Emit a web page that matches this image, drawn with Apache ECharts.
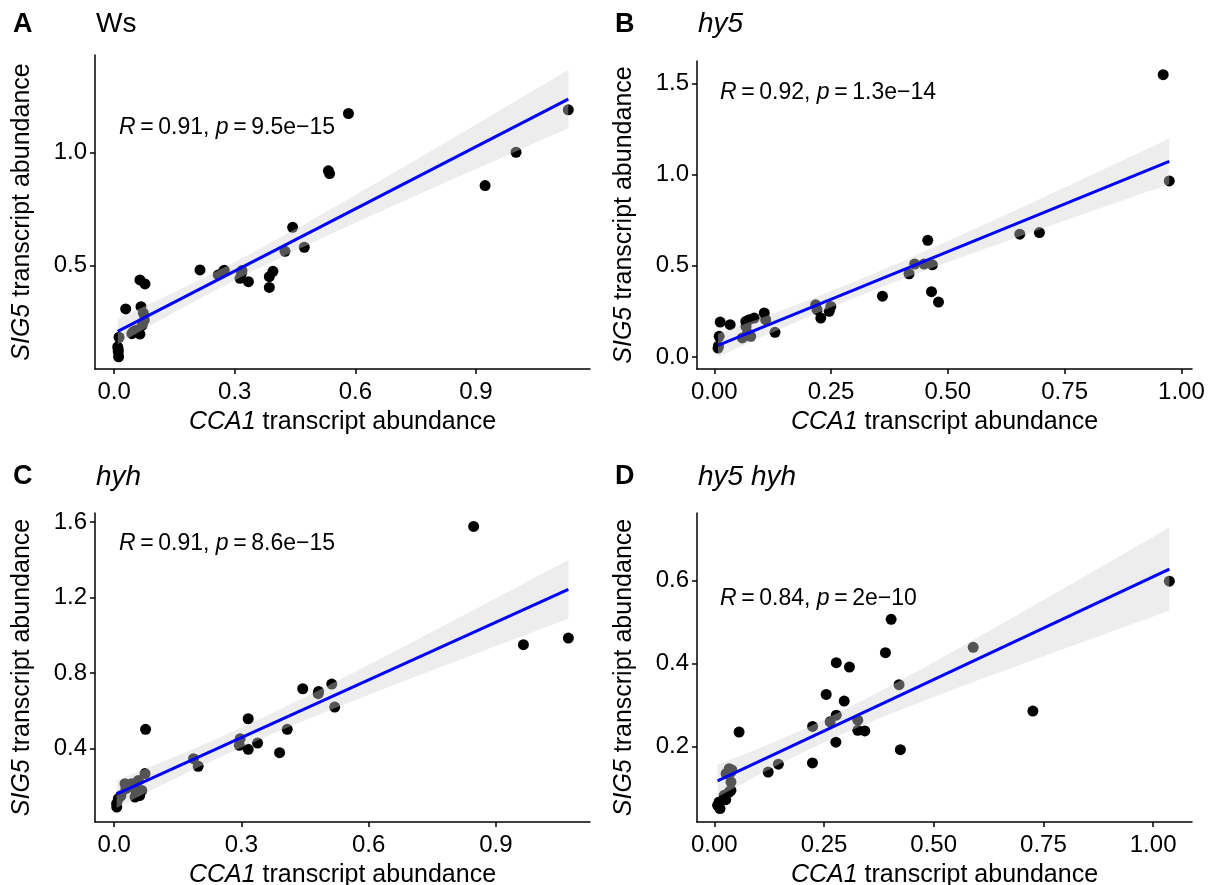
<!DOCTYPE html>
<html>
<head>
<meta charset="utf-8">
<script src="https://cdn.jsdelivr.net/npm/echarts@6/dist/echarts.min.js"></script>
<style>
  html, body { margin: 0; padding: 0; background: #fff; }
  #chart { width: 1216px; height: 885px; }
</style>
</head>
<body>
<div id="chart"></div>
<script>
// CCA1 (x) vs SIG5 (y) transcript abundance, one array of [x, y] per genotype
const wsPoints = [
  [0.0087,0.142],[0.010,0.120],[0.011,0.098],[0.012,0.184],[0.010,0.130],
  [0.0286,0.309],[0.044,0.200],[0.0475,0.209],[0.060,0.209],[0.064,0.198],
  [0.070,0.238],[0.075,0.260],[0.0725,0.290],[0.0667,0.319],[0.064,0.437],
  [0.0766,0.419],[0.055,0.215],
  [0.2135,0.481],[0.259,0.459],[0.2715,0.473],[0.274,0.480],[0.313,0.444],
  [0.317,0.466],[0.318,0.478],[0.334,0.429],[0.386,0.404],[0.386,0.451],
  [0.395,0.475],[0.425,0.563],[0.444,0.669],[0.473,0.581],[0.533,0.918],
  [0.536,0.906],[0.583,1.171],[0.923,0.853],[1.000,1.000],[1.130,1.187]
];
const hy5Points = [
  [0.008,0.049],[0.009,0.060],[0.0105,0.113],[0.0126,0.1915],[0.034,0.177],
  [0.060,0.104],[0.071,0.131],[0.068,0.1675],[0.0676,0.195],[0.0747,0.204],
  [0.078,0.113],[0.0854,0.213],[0.107,0.241],[0.110,0.204],[0.130,0.135],
  [0.217,0.286],[0.220,0.259],[0.2495,0.277],[0.246,0.250],[0.228,0.213],
  [0.360,0.333],[0.417,0.456],[0.429,0.509],[0.449,0.509],[0.457,0.639],
  [0.467,0.505],[0.465,0.358],[0.480,0.301],[0.654,0.673],[0.696,0.682],
  [0.961,1.547],[0.974,0.965]
];
const hyhPoints = [
  [0.006,0.089],[0.0057,0.107],[0.0097,0.133],[0.016,0.150],[0.0255,0.2125],
  [0.0275,0.186],[0.041,0.2125],[0.048,0.186],[0.049,0.142],[0.057,0.230],
  [0.060,0.150],[0.065,0.177],[0.0727,0.266],[0.074,0.501],
  [0.187,0.345],[0.198,0.305],[0.295,0.416],[0.297,0.451],[0.316,0.395],
  [0.316,0.557],[0.338,0.428],[0.390,0.377],[0.408,0.501],[0.4446,0.716],
  [0.481,0.690],[0.482,0.702],[0.513,0.741],[0.520,0.619],[0.8476,1.577],
  [0.965,0.950],[1.071,0.985]
];
const hy5hyhPoints = [
  [0.0075,0.058],[0.011,0.066],[0.013,0.050],[0.0226,0.082],[0.026,0.0715],
  [0.034,0.090],[0.038,0.094],[0.038,0.114],[0.027,0.134],[0.038,0.138],
  [0.034,0.146],[0.040,0.143],[0.0565,0.2345],[0.1228,0.138],[0.146,0.157],
  [0.2237,0.160],[0.224,0.248],[0.255,0.325],[0.264,0.259],[0.277,0.210],
  [0.278,0.275],[0.278,0.4016],[0.296,0.309],[0.308,0.391],[0.327,0.263],
  [0.327,0.2386],[0.343,0.237],[0.390,0.4257],[0.403,0.506],[0.421,0.3486],
  [0.424,0.192],[0.590,0.4386],[0.726,0.285],[1.037,0.598]
];

// tick values
const xTicksTenths = [0, 0.3, 0.6, 0.9];
const xTicksQuarters = [0, 0.25, 0.5, 0.75, 1];
const yTicksWs = [0.5, 1.0];
const yTicksHy5 = [0, 0.5, 1.0, 1.5];
const yTicksHyh = [0.4, 0.8, 1.2, 1.6];
const yTicksHy5hyh = [0.2, 0.4, 0.6];

// panel letters, genotype titles, correlation statistics
const panelLetters = ['A', 'B', 'C', 'D'];
const genotypes = ['Ws', 'hy5', 'hyh', 'hy5 hyh'];
const corR = ['0.91', '0.92', '0.91', '0.84'];
const corP = ['9.5e\u221215', '1.3e\u221214', '8.6e\u221215', '2e\u221210'];

const FONT = '"Liberation Sans", Arial, Helvetica, sans-serif';

// Student t 97.5% quantile (Cornish-Fisher expansion)
function tQuantile(df) {
  const z = 1.959964;
  const z3 = z*z*z, z5 = z3*z*z, z7 = z5*z*z;
  return z + (z3 + z)/(4*df) + (5*z5 + 16*z3 + 3*z)/(96*df*df)
           + (3*z7 + 19*z5 + 17*z3 - 15*z)/(384*df*df*df);
}

// least-squares fit with 95% confidence band
function linearFit(pts) {
  const n = pts.length;
  let mx = 0, my = 0;
  pts.forEach(p => { mx += p[0]; my += p[1]; });
  mx /= n; my /= n;
  let sxx = 0, sxy = 0;
  pts.forEach(p => { sxx += (p[0]-mx)*(p[0]-mx); sxy += (p[0]-mx)*(p[1]-my); });
  const b = sxy / sxx, a = my - b*mx;
  let rss = 0;
  pts.forEach(p => { const r = p[1] - a - b*p[0]; rss += r*r; });
  const s = Math.sqrt(rss/(n-2));
  const t = tQuantile(n-2);
  const xs = pts.map(p => p[0]);
  const x0 = Math.min.apply(null, xs), x1 = Math.max.apply(null, xs);
  const upper = [], lower = [];
  const steps = 80;
  for (let i = 0; i < steps; i++) {
    const x = x0 + (x1 - x0)*i/(steps-1);
    const yh = a + b*x;
    const se = s*Math.sqrt(1/n + (x-mx)*(x-mx)/sxx);
    upper.push([x, yh + t*se]);
    lower.push([x, yh - t*se]);
  }
  return { line: [[x0, a + b*x0], [x1, a + b*x1]], upper, lower };
}

const panels = [
  { pts: wsPoints, grid: {left: 95, top: 55, width: 495, height: 314},
    xr: [-0.0478, 1.184], yr: [0.044, 1.429], xt: xTicksTenths, xd: 1, yt: yTicksWs, yd: 1,
    letter: [13, 25], title: [96, 25], cor: [119, 128] },
  { pts: hy5Points, grid: {left: 697, top: 61, width: 495, height: 308},
    xr: [-0.037, 1.0227], yr: [-0.066, 1.622], xt: xTicksQuarters, xd: 2, yt: yTicksHy5, yd: 1,
    letter: [615, 25], title: [698, 25], cor: [720, 93] },
  { pts: hyhPoints, grid: {left: 95, top: 513, width: 495, height: 309},
    xr: [-0.0453, 1.122], yr: [0.0094, 1.648], xt: xTicksTenths, xd: 1, yt: yTicksHyh, yd: 1,
    letter: [13, 477], title: [96, 478], cor: [119, 544] },
  { pts: hy5hyhPoints, grid: {left: 697, top: 513, width: 495, height: 309},
    xr: [-0.0394, 1.0886], yr: [0.0177, 0.7622], xt: xTicksQuarters, xd: 2, yt: yTicksHy5hyh, yd: 1,
    letter: [615, 477], title: [698, 478], cor: [720, 599] }
];

const axisLine = { show: true, onZero: false, lineStyle: { color: '#000', width: 1.5 } };
const grids = [], xAxes = [], yAxes = [], series = [], graphics = [];

panels.forEach((p, i) => {
  grids.push(Object.assign({ containLabel: false, outerBoundsMode: 'none' }, p.grid));
  xAxes.push({
    type: 'value', gridIndex: i, min: p.xr[0], max: p.xr[1],
    axisLine, splitLine: { show: false },
    axisTick: { show: true, length: 5, lineStyle: { color: '#000', width: 1.5 }, customValues: p.xt },
    axisLabel: { color: '#000', fontFamily: FONT, fontSize: 24, margin: 11,
                 customValues: p.xt, formatter: v => v.toFixed(p.xd) },
    name: '{i|CCA1} transcript abundance', nameLocation: 'middle', nameGap: 41,
    nameTextStyle: { color: '#000', fontFamily: FONT, fontSize: 25,
                     rich: { i: { fontStyle: 'italic', fontFamily: FONT, fontSize: 25, color: '#000' } } }
  });
  yAxes.push({
    type: 'value', gridIndex: i, min: p.yr[0], max: p.yr[1],
    axisLine, splitLine: { show: false },
    axisTick: { show: true, length: 5, lineStyle: { color: '#000', width: 1.5 }, customValues: p.yt },
    axisLabel: { color: '#000', fontFamily: FONT, fontSize: 24, margin: 8,
                 customValues: p.yt, formatter: v => v.toFixed(p.yd) },
    name: '{i|SIG5} transcript abundance', nameLocation: 'middle', nameGap: 60,
    nameTextStyle: { color: '#000', fontFamily: FONT, fontSize: 25,
                     rich: { i: { fontStyle: 'italic', fontFamily: FONT, fontSize: 25, color: '#000' } } }
  });

  const fit = linearFit(p.pts);
  series.push({
    type: 'scatter', xAxisIndex: i, yAxisIndex: i, data: p.pts, z: 2,
    symbolSize: 11, itemStyle: { color: '#000', opacity: 1 }, silent: true
  });
  series.push({
    type: 'custom', xAxisIndex: i, yAxisIndex: i, z: 3, silent: true, data: [0],
    renderItem: (params, api) => {
      const poly = fit.upper.map(q => api.coord(q))
        .concat(fit.lower.slice().reverse().map(q => api.coord(q)));
      return { type: 'polygon', shape: { points: poly },
               style: { fill: 'rgba(211,211,211,0.4)' } };
    }
  });
  series.push({
    type: 'line', xAxisIndex: i, yAxisIndex: i, data: fit.line, z: 4,
    showSymbol: false, silent: true, lineStyle: { color: '#0000FF', width: 3 }
  });

  graphics.push({
    type: 'text', left: p.letter[0], top: p.letter[1] - 14,
    style: { text: panelLetters[i], font: 'bold 27px ' + FONT, fill: '#000' }
  });
  graphics.push({
    type: 'text', left: p.title[0], top: p.title[1] - 15,
    style: { text: genotypes[i], fill: '#000',
             font: (i === 0 ? '' : 'italic ') + '28px ' + FONT }
  });
  graphics.push({
    type: 'text', left: p.cor[0], top: p.cor[1] - 12,
    style: {
      text: '{i|R}\u2009=\u2009' + corR[i] + ', {i|p}\u2009=\u2009' + corP[i],
      fill: '#000', font: '23px ' + FONT,
      rich: { i: { fontStyle: 'italic', fontFamily: FONT, fontSize: 23, fill: '#000' } }
    }
  });
});

const chart = echarts.init(document.getElementById('chart'), null, { renderer: 'canvas' });
chart.setOption({
  animation: false,
  backgroundColor: '#fff',
  grid: grids, xAxis: xAxes, yAxis: yAxes, series, graphic: graphics
});
</script>
</body>
</html>
